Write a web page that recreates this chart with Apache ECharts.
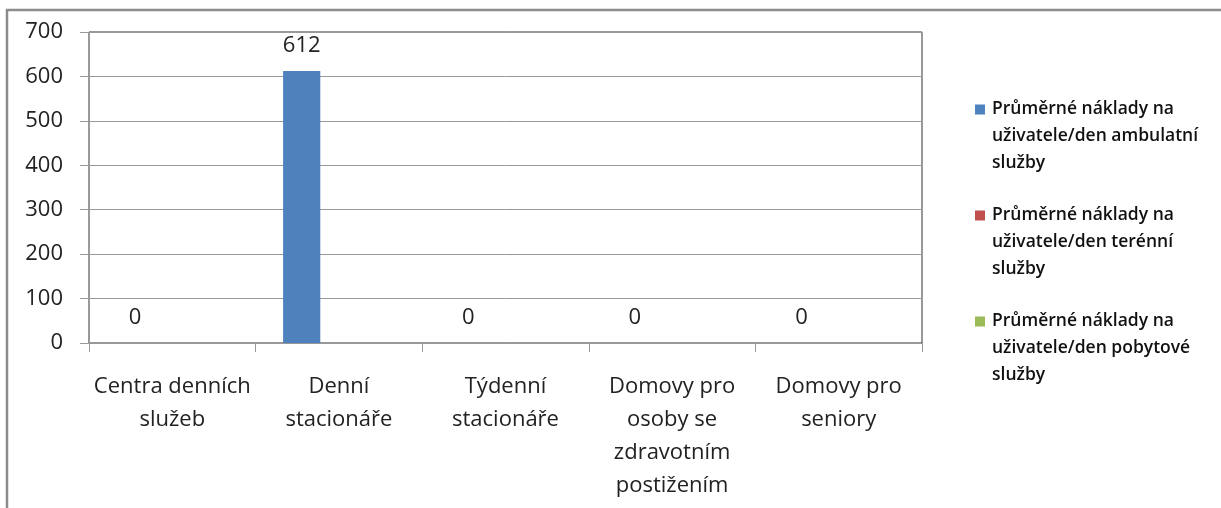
<!DOCTYPE html>
<html><head><meta charset="utf-8">
<script src="https://cdn.jsdelivr.net/npm/echarts@6/dist/echarts.min.js"></script>
<style>html,body{margin:0;padding:0;background:#fff}#c{width:1221px;height:508px}</style>
</head><body><div id="c"></div>
<script>
const categories = ["Centra denních\nslužeb", "Denní\nstacionáře", "Týdenní\nstacionáře", "Domovy pro\nosoby se\nzdravotním\npostižením", "Domovy pro\nseniory"];
const seriesNames = ["Průměrné náklady na\nuživatele/den ambulatní\nslužby", "Průměrné náklady na\nuživatele/den terénní\nslužby", "Průměrné náklady na\nuživatele/den pobytové\nslužby"];
const ambulantni = [0, 612, 0, 0, 0];
const terenni = [null, null, null, null, null];
const pobytove = [null, null, null, null, null];
const yTicks = { min: 0, max: 700, interval: 100 };
const colors = ["#4F81BD", "#C0504D", "#9BBB59"];

const font = "'Open Sans', sans-serif";
const legendIcon = 'path://M0,0L0.01,0L0.01,0.01Z M0,8.5L10,8.5L10,18.5L0,18.5Z M9.99,80.99L10,80.99L10,81Z';
const chart = echarts.init(document.getElementById('c'), null, {renderer: 'canvas'});
chart.setOption({
  animation: false,
  textStyle: { fontFamily: font },
  color: colors,
  graphic: [{
    type: 'polyline', silent: true,
    shape: { points: [[7, 600], [7, 10], [1230, 10]] },
    style: { stroke: '#8c8c8c', lineWidth: 2.5, fill: null }
  }],
  grid: { left: 89, top: 32, right: 299, bottom: 165, show: true, borderColor: '#333', borderWidth: 1, containLabel: false },
  legend: {
    orient: 'vertical', left: 970, top: 91,
    itemWidth: 10, itemHeight: 81, itemGap: 25,
    icon: legendIcon,
    data: seriesNames,
    textStyle: { fontFamily: font, fontSize: 17.5, fontWeight: 600, color: '#111', lineHeight: 27, padding: [0, 0, 0, 2] }
  },
  xAxis: {
    type: 'category', data: categories,
    axisLine: { lineStyle: { color: '#999' } },
    axisTick: { show: true, length: 9, lineStyle: { color: '#999' } },
    axisLabel: { fontSize: 22, color: '#222', lineHeight: 33, margin: 27, interval: 0 }
  },
  yAxis: {
    type: 'value', min: yTicks.min, max: yTicks.max, interval: yTicks.interval,
    axisLine: { show: true, lineStyle: { color: '#999' } },
    axisTick: { show: true, length: 9, lineStyle: { color: '#999' } },
    axisLabel: { fontSize: 22, color: '#222', margin: 26 },
    splitLine: { lineStyle: { color: '#999' } }
  },
  series: [
    { name: seriesNames[0], type: 'bar', data: ambulantni, barGap: 0, barCategoryGap: '33%',
      label: { show: true, position: 'top', distance: 14, fontSize: 22, color: '#222', fontFamily: font } },
    { name: seriesNames[1], type: 'bar', data: terenni, barGap: 0, barCategoryGap: '33%' },
    { name: seriesNames[2], type: 'bar', data: pobytove, barGap: 0, barCategoryGap: '33%' }
  ]
});
</script></body></html>
